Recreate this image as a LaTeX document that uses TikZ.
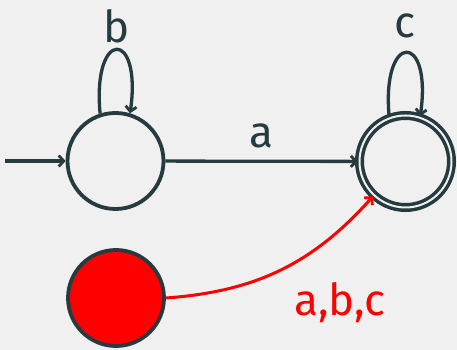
\documentclass[tikz,border=0pt]{standalone}
\usepackage{fontspec}
\setmainfont{Fira Sans}
\usetikzlibrary{arrows.meta}
\definecolor{ink}{HTML}{263B3F}
\definecolor{bg}{HTML}{F0F0F0}
\definecolor{hot}{HTML}{FF0000}
\begin{document}
\begin{tikzpicture}[x=1pt,y=1pt,
  state/.style={circle,draw=ink,line width=3.8pt,minimum size=96pt,inner sep=0pt},
  accept/.style={circle,draw=ink,line width=3.5pt,double=bg,double distance=2pt,minimum size=92pt,inner sep=0pt},
  edge/.style={draw=ink,line width=3.3pt,-{Straight Barb[length=5pt,width=11pt,line width=2.8pt]}},
  lbl/.style={font=\fontsize{44}{50}\selectfont,text=ink,inner sep=0pt}]
\fill[bg] (0,0) rectangle (457,350);
\useasboundingbox (0,0) rectangle (457,350);
\node[state] (q0) at (115.5,189) {};
\node[accept] (q1) at (405.5,188.5) {};
\node[state,fill=hot] (q2) at (116,52) {};
\coordinate (init) at (5,189);
\draw[edge] (init) -- (q0);
\draw[edge] (q0) -- node[lbl,above=12pt,pos=0.5] (la) {a} (q1);
\draw[edge] (q0.108) .. controls +(-8,85) and +(12,85) .. (q0.73);
\node[lbl] (lb) at (117,324) {b};
\draw[edge] (q1.110) .. controls +(-8,85) and +(12,85) .. (q1.72);
\node[lbl] (lc) at (405,324) {c};
\draw[edge,draw=hot,line width=3pt] (q2.0) to[bend right=22] (q1.227);
\node[lbl,text=hot] (lr) at (340,47) {a,b,c};
\end{tikzpicture}
\end{document}
